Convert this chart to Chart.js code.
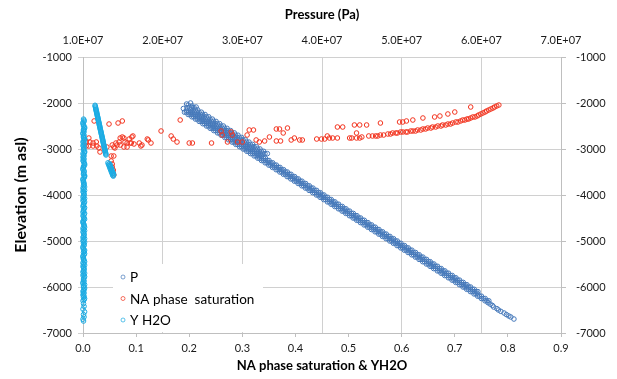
<!DOCTYPE html>
<html>
<head>
<meta charset="utf-8">
<script src="https://cdn.jsdelivr.net/npm/chart.js@4.4.1/dist/chart.umd.min.js"></script>
<style>
  html, body { margin: 0; padding: 0; background: #fff; }
  #wrap { width: 617px; height: 379px; }
</style>
</head>
<body>
<div id="wrap"><canvas id="myChart" width="617" height="379"></canvas></div>
<script>
// tick labels
const satTicks = ['0.0', '0.1', '0.2', '0.3', '0.4', '0.5', '0.6', '0.7', '0.8', '0.9'];
const presTicks = ['1.0E+07', '2.0E+07', '3.0E+07', '4.0E+07', '5.0E+07', '6.0E+07', '7.0E+07'];
const elevTicks = ['-7000', '-6000', '-5000', '-4000', '-3000', '-2000', '-1000'];
const seriesNames = ['P', 'NA phase  saturation', 'Y H2O'];

// P: elevation (m) and pressure (MPa) (rows across its width)
const pElevBand = [-2200,-2250,-2300,-2350,-2400,-2450,-2500,-2550,-2600,-2650,
  -2700,-2750,-2800,-2850,-2900,-2950,-3000,-3050,-3100,-3150,
  -3200,-3250,-3300,-3350,-3400,-3450,-3500,-3550,-3600,-3650,
  -3700,-3750,-3800,-3850,-3900,-3950,-4000,-4050,-4100,-4150,
  -4200,-4250,-4300,-4350,-4400,-4450,-4500,-4550,-4600,-4650,
  -4700,-4750,-4800,-4850,-4900,-4950,-5000,-5050,-5100,-5150,
  -5200,-5250,-5300,-5350,-5400,-5450,-5500,-5550,-5600,-5650,
  -5700,-5750,-5800,-5850,-5900,-5950,-6000,-6050,-6100,-6150,
  -6200,-6250,-6300];
const pPresA = [22.74,23.20,23.66,24.12,24.58,25.04,25.50,25.96,26.42,26.88,
  27.34,27.80,28.26,28.72,29.18,29.64,30.10,30.56,31.02,31.48,
  31.94,32.40,32.86,33.32,33.78,34.24,34.70,35.16,35.62,36.08,
  36.54,37.00,37.46,37.92,38.38,38.84,39.30,39.76,40.22,40.68,
  41.14,41.60,42.06,42.52,42.98,43.44,43.90,44.36,44.82,45.28,
  45.74,46.20,46.66,47.12,47.58,48.04,48.50,48.96,49.42,49.88,
  50.34,50.80,51.26,51.72,52.18,52.64,53.10,53.56,54.02,54.48,
  54.94,55.40,55.86,56.32,56.78,57.24,57.70,58.16,58.62,59.08,
  59.54,60.00,60.46];
const pPresA2 = [22.98,23.44,23.90,24.36,24.82,25.28,25.74,26.20,26.66,27.12,
  27.58,28.04,28.50,28.96,29.42,29.88,30.34,30.80,31.26,31.72,
  32.18,32.64,33.10,33.56,34.02,34.48,34.94,35.40,35.86,36.32,
  36.78,37.24,37.70,38.16,38.62,39.08,39.54,40.00,40.46,40.92,
  41.38,41.84,42.30,42.76,43.22,43.68,44.14,44.60,45.06,45.52,
  45.98,46.44,46.90,47.36,47.82,48.28,48.74,49.20,49.66,50.12,
  50.58,51.04,51.50,51.96,52.42,52.88,53.34,53.80,54.26,54.72,
  55.18,55.64,56.10,56.56,57.02,57.48,57.94,58.40,58.86,59.32,
  59.78,60.24,60.70];
const pPresM = [23.22,23.68,24.14,24.60,25.06,25.52,25.98,26.44,26.90,27.36,
  27.82,28.28,28.74,29.20,29.66,30.12,30.58,31.04,31.50,31.96,
  32.42,32.88,33.34,33.80,34.26,34.72,35.18,35.64,36.10,36.56,
  37.02,37.48,37.94,38.40,38.86,39.32,39.78,40.24,40.70,41.16,
  41.62,42.08,42.54,43.00,43.46,43.92,44.38,44.84,45.30,45.76,
  46.22,46.68,47.14,47.60,48.06,48.52,48.98,49.44,49.90,50.36,
  50.82,51.28,51.74,52.20,52.66,53.12,53.58,54.04,54.50,54.96,
  55.42,55.88,56.34,56.80,57.26,57.72,58.18,58.64,59.10,59.56,
  60.02,60.48,60.94];
const pPresM2 = [23.46,23.92,24.38,24.84,25.30,25.76,26.22,26.68,27.14,27.60,
  28.06,28.52,28.98,29.44,29.90,30.36,30.82,31.28,31.74,32.20,
  32.66,33.12,33.58,34.04,34.50,34.96,35.42,35.88,36.34,36.80,
  37.26,37.72,38.18,38.64,39.10,39.56,40.02,40.48,40.94,41.40,
  41.86,42.32,42.78,43.24,43.70,44.16,44.62,45.08,45.54,46.00,
  46.46,46.92,47.38,47.84,48.30,48.76,49.22,49.68,50.14,50.60,
  51.06,51.52,51.98,52.44,52.90,53.36,53.82,54.28,54.74,55.20,
  55.66,56.12,56.58,57.04,57.50,57.96,58.42,58.88,59.34];
const pPresB = [23.69,24.15,24.61,25.07,25.53,25.99,26.45,26.91,27.37,27.83,
  28.29,28.75,29.21,29.67,30.13,30.59,31.05,31.51,31.97,32.43,
  32.89,33.35,33.81,34.27,34.73,35.19,35.65,36.11,36.57,37.03,
  37.49,37.95,38.41,38.87,39.33,39.79,40.25,40.71,41.17,41.63,
  42.09,42.55,43.01,43.47,43.93,44.39,44.85,45.31,45.77,46.23,
  46.69,47.15,47.61,48.07,48.53,48.99,49.45,49.91,50.37,50.83,
  51.29,51.75,52.21,52.67,53.13,53.59,54.05,54.51,54.97,55.43,
  55.89,56.35,56.81,57.27,57.73,58.19,58.65,59.11,59.57];
// the band is wider near its top: extra rows on the high-pressure side
const pElevUpper = [-2100,-2150,-2200,-2250,-2300,-2350,-2400,-2450,-2500,-2550,
  -2600,-2650,-2700,-2750,-2800,-2850,-2900,-2950,-3000,-3050,-3100];
const pPresD2 = [23.06,23.52,23.98,24.44,24.90,25.36,25.82,26.28,26.74,27.20,
  27.66,28.12,28.58,29.04,29.50,29.96,30.42,30.88,31.34,31.80,32.26];
const pPresD = [23.35,23.81,24.27,24.73,25.19,25.65,26.11,26.57,27.03,27.49,
  27.95,28.41,28.87,29.33,29.79,30.25,30.71,31.17,31.63,32.09,32.55];
const pPresC2 = [23.64,24.10,24.56,25.02,25.48,25.94,26.40,26.86,27.32,27.78,
  28.24,28.70,29.16,29.62,30.08,30.54,31.00,31.46,31.92,32.38,32.84];
const pPresC = [23.94,24.40,24.86,25.32,25.78,26.24,26.70,27.16,27.62,28.08,
  28.54,29.00,29.46,29.92,30.38,30.84,31.30,31.76,32.22,32.68,33.14];
const pElevTip = [-2000,-2022,-2044,-2065,-2087,-2120,-2160];
const pPresTip = [23.5,23.0,23.21,23.71,24.2,22.6,23.0];
// deepest P points
const pElevTail = [-6340,-6370,-6400,-6435,-6470,-6500,-6530,-6565,-6600,-6630,-6652,-6696];
const pPresTail = [60.83,61.10,61.38,61.55,61.95,62.15,62.45,62.85,63.15,63.45,63.70,64.09];

// NA phase saturation
const naX = [.021,.011,.006,.013,.019,.025,.011,.006,.019,.026,
  .030,.032,.049,.066,.074,.055,.058,.062,.068,.070,
  .074,.077,.079,.083,.089,.087,.092,.096,.106,.111,
  .064,.070,.077,.083,.060,.094,.109,.121,.128,.147,
  .053,.058,.053,.055,.055,.057,.057,.058,.045,.091,
  .123,.166,.170,.177,.183,.200,.206,.242,.260,.262,
  .272,.279,.281,.291,.300,.309,.313,.321,.326,.332,
  .342,.351,.364,.370,.364,.372,.377,.385,.392,.398,
  .408,.413,.440,.449,.455,.460,.470,.479,.479,.489,
  .506,.511,.515,.521,.525,.534,.538,.545,.560,
  .596,.602,.609,.621,.640,.662,.672,.687,.700,.730,
  .502,.551,.555,.560,.566,.574,.579,.583,.589,.592,
  .598,.602,.608,.611,.617,.621,.626,.630,.636,.640,
  .645,.649,.655,.658,.664,.668,.674,.677,.683,.687,
  .692,.696,.702,.706,.711,.715,.719,.723,.726,.730,
  .734,.738,.742,.745,.749,.753,.757,.760,.764,.768,
  .772,.775,.779,.783,
  .464,.515,.521];
const naElev = [-2391,-2761,-2848,-2848,-2870,-2848,-2935,-2935,-2935,-2935,
  -2978,-3065,-2457,-2435,-2391,-2913,-2957,-2870,-2848,-2761,
  -2739,-2761,-2848,-2870,-2870,-2783,-2739,-2891,-2870,-2913,
  -2913,-2913,-2957,-2957,-2978,-2717,-2935,-2783,-2870,-2609,
  -3152,-3152,-3261,-3326,-3391,-3457,-3522,-3565,-2957,-2870,
  -2804,-2717,-2783,-2848,-2370,-2870,-2870,-2870,-2609,-2696,
  -2848,-2630,-2696,-2848,-2848,-2696,-2587,-2587,-2804,-2848,
  -2826,-2739,-2565,-2565,-2826,-2826,-2652,-2544,-2804,-2761,
  -2804,-2804,-2783,-2783,-2783,-2717,-2761,-2761,-2522,-2522,
  -2761,-2478,-2652,-2478,-2739,-2478,-2717,-2717,-2435,
  -2413,-2413,-2391,-2370,-2326,-2304,-2283,-2239,-2196,-2087,
  -2761,-2717,-2717,-2696,-2696,-2674,-2674,-2652,-2652,-2652,
  -2630,-2630,-2630,-2630,-2609,-2609,-2609,-2587,-2587,-2565,
  -2565,-2544,-2544,-2522,-2522,-2500,-2500,-2478,-2478,-2457,
  -2457,-2435,-2413,-2413,-2391,-2370,-2370,-2348,-2348,-2326,
  -2304,-2304,-2283,-2261,-2239,-2217,-2196,-2174,-2152,-2130,
  -2109,-2087,-2065,-2044,
  -2761,-2761,-2761];

// Y H2O: column near zero (two interleaved sets), upper diagonal, short lower segment
const yColElev = [-2350,-2400,-2450,-2500,-2550,-2600,-2650,-2700,-2750,-2800,
  -2850,-2900,-2950,-3000,-3050,-3100,-3150,-3200,-3250,-3300,
  -3350,-3400,-3450,-3500,-3550,-3600,-3650,-3700,-3750,-3800,
  -3850,-3900,-3950,-4000,-4050,-4100,-4150,-4200,-4250,-4300,
  -4350,-4400,-4450,-4500,-4550,-4600,-4650,-4700,-4750,-4800,
  -4850,-4900,-4950,-5000,-5050,-5100,-5150,-5200,-5250,-5300,
  -5350,-5400,-5450,-5500,-5550,-5600,-5650,-5700,-5750,-5800,
  -5850,-5900,-5950,-6000,-6050,-6100,-6150,-6200,-6250,-6300,
  -6360,-6420,-6480,-6540,-6600,-6650,-6700,-6740];
const yColX = [.001,.002,.000,.001,.003,.001,.000,.002,.001,.003,
  .000,.002,.001,.001,.003,.000,.002,.001,.000,.002,
  .003,.001,.000,.002,.001,.003,.000,.001,.002,.001,
  .000,.003,.001,.002,.000,.001,.003,.001,.000,.002,
  .001,.003,.000,.002,.001,.000,.002,.003,.001,.000,
  .002,.001,.003,.000,.001,.002,.000,.003,.001,.002,
  .000,.001,.003,.001,.000,.002,.001,.003,.000,.002,
  .001,.000,.003,.001,.002,.000,.001,.002,.003,.000,
  .001,.002,.000,.003,.001,.002,.000,.001];
const yCol2Elev = [-2375,-2425,-2475,-2525,-2575,-2625,-2675,-2725,-2775,-2825,
  -2875,-2925,-2975,-3025,-3075,-3125,-3175,-3225,-3275,-3325,
  -3375,-3425,-3475,-3525,-3575,-3625,-3675,-3725,-3775,-3825,
  -3875,-3925,-3975,-4025,-4075,-4125,-4175,-4225,-4275,-4325,
  -4375,-4425,-4475,-4525,-4575,-4625,-4675,-4725,-4775,-4825,
  -4875,-4925,-4975,-5025,-5075,-5125,-5175,-5225,-5275,-5325,
  -5375,-5425,-5475,-5525,-5575,-5625,-5675,-5725,-5775,-5825,
  -5875,-5925,-5975,-6025,-6075,-6125,-6175,-6225,-6275];
const yCol2X = [.002,.000,.001,.003,.001,.002,.000,.001,.003,.001,
  .002,.000,.002,.001,.003,.001,.000,.002,.001,.003,
  .001,.000,.002,.001,.003,.002,.000,.001,.002,.003,
  .001,.000,.002,.001,.003,.000,.002,.001,.003,.001,
  .000,.002,.001,.003,.000,.001,.002,.000,.003,.001,
  .002,.000,.001,.003,.002,.000,.001,.002,.003,.000,
  .001,.002,.000,.003,.001,.002,.000,.001,.003,.001,
  .002,.000,.001,.003,.001,.002,.000,.001,.002];
const yDiagElev = [-2050,-2070,-2090,-2110,-2130,-2150,-2170,-2190,-2210,-2230,
  -2250,-2270,-2290,-2310,-2330,-2350,-2370,-2390,-2410,-2430,
  -2450,-2470,-2490,-2510,-2530,-2550,-2570,-2590,-2610,-2630,
  -2650,-2670,-2690,-2710,-2730,-2750,-2770,-2790,-2810,-2830,
  -2850,-2870,-2890,-2910,-2930,-2950,-2970,-2990,-3010,-3030,
  -3050,-3070,-3090,-3110,-3130];
const yDiagX = [.0227,.0231,.0235,.0238,.0242,.0246,.0250,.0254,.0258,.0261,
  .0265,.0269,.0273,.0277,.0281,.0284,.0288,.0292,.0296,.0300,
  .0304,.0307,.0311,.0315,.0319,.0322,.0326,.0330,.0334,.0338,
  .0342,.0345,.0349,.0353,.0357,.0361,.0365,.0368,.0372,.0376,
  .0380,.0383,.0387,.0391,.0395,.0399,.0403,.0406,.0410,.0414,
  .0418,.0422,.0426,.0429,.0433];
const ySegElev = [-3300,-3330,-3360,-3390,-3420,-3450,-3480,-3510,-3540,-3570,-3590,
  -3320,-3350,-3380,-3410,-3440,-3470,-3500,-3530,-3560];
const ySegX = [.047,.048,.049,.050,.051,.052,.053,.054,.055,.056,.057,
  .050,.051,.052,.053,.054,.055,.056,.057,.058];

const pColor = '#4679BA';
const naColor = '#F2341F';
const yColor = '#1AABE3';

const toPts = (xs, ys, k) => xs.map((v, i) => ({ x: v * (k || 1), y: ys[i] }));

const pData = [].concat(
  toPts(pPresA, pElevBand, 1e6),
  toPts(pPresA2, pElevBand, 1e6),
  toPts(pPresM, pElevBand, 1e6),
  toPts(pPresM2, pElevBand, 1e6),
  toPts(pPresB, pElevBand, 1e6),
  toPts(pPresD2, pElevUpper, 1e6),
  toPts(pPresD, pElevUpper, 1e6),
  toPts(pPresC2, pElevUpper, 1e6),
  toPts(pPresC, pElevUpper, 1e6),
  toPts(pPresTip, pElevTip, 1e6),
  toPts(pPresTail, pElevTail, 1e6)
);
const naData = toPts(naX, naElev);
const yData = [].concat(
  toPts(yColX, yColElev),
  toPts(yCol2X, yCol2Elev),
  toPts(yDiagX, yDiagElev),
  toPts(ySegX, ySegElev)
);

Chart.defaults.font.family = 'Lato';
Chart.defaults.color = '#1a1a1a';

const pointStyle = {
  showLine: false,
  pointStyle: 'circle',
  pointRadius: 2.3,
  pointBorderWidth: 1,
  pointBackgroundColor: 'rgba(0,0,0,0)',
  clip: false
};

// legend drawn inside the plot, lower left, on a white box
const boxLegend = {
  id: 'boxLegend',
  afterDatasetsDraw(chart) {
    const { ctx, chartArea } = chart;
    const x0 = chartArea.left + 30;
    const y0 = chartArea.bottom - 69;
    ctx.save();
    ctx.fillStyle = '#ffffff';
    ctx.fillRect(x0, y0, 150, 68);
    ctx.font = '13.5px Lato';
    ctx.textBaseline = 'middle';
    chart.data.datasets.forEach((ds, i) => {
      const cy = y0 + 13 + i * 21.5;
      ctx.beginPath();
      ctx.arc(x0 + 10, cy, 2, 0, Math.PI * 2);
      ctx.globalAlpha = 0.7;
      ctx.strokeStyle = ds.borderColor;
      ctx.lineWidth = 1;
      ctx.stroke();
      ctx.globalAlpha = 1;
      ctx.fillStyle = '#000';
      ctx.fillText(ds.label, x0 + 17, cy + 1);
    });
    ctx.restore();
  }
};

const titleFont = { family: 'Lato', size: 13, weight: 'bold' };
const tickFont = { family: 'Lato', size: 11 };

new Chart(document.getElementById('myChart'), {
  type: 'scatter',
  data: {
    datasets: [
      Object.assign({ label: seriesNames[0], data: pData, xAxisID: 'x2', yAxisID: 'y',
        borderColor: pColor, pointBorderColor: pColor, order: 3 }, pointStyle),
      Object.assign({ label: seriesNames[1], data: naData, xAxisID: 'x', yAxisID: 'y',
        borderColor: naColor, pointBorderColor: naColor, order: 2 }, pointStyle),
      Object.assign({ label: seriesNames[2], data: yData, xAxisID: 'x', yAxisID: 'y',
        borderColor: yColor, pointBorderColor: yColor, order: 1 }, pointStyle)
    ]
  },
  options: {
    responsive: false,
    devicePixelRatio: 1,
    animation: false,
    events: [],
    layout: { padding: 0 },
    plugins: { legend: { display: false }, tooltip: { enabled: false } },
    scales: {
      x: {
        type: 'linear', position: 'bottom', min: 0, max: 0.9,
        ticks: { stepSize: 0.1, font: tickFont, padding: 5, maxRotation: 0,
          callback: v => satTicks[Math.round(v * 10)] },
        grid: { drawOnChartArea: false, tickLength: 4, color: '#BFBFBF' },
        border: { display: true, color: '#BFBFBF' },
        title: { display: true, text: 'NA phase saturation & YH2O', font: titleFont,
          color: '#000', padding: { top: 0, bottom: 5 } },
        afterFit: s => { s.height = 46; }
      },
      x2: {
        type: 'linear', position: 'top', min: 1e7, max: 7e7,
        ticks: { stepSize: 1e7, font: tickFont, padding: 10, maxRotation: 0,
          callback: v => presTicks[Math.round(v / 1e7) - 1] },
        grid: { drawOnChartArea: true, drawTicks: false, color: '#D0D0D0' },
        border: { display: true, color: '#D0D0D0' },
        title: { display: true, text: 'Pressure (Pa)', font: titleFont,
          color: '#000', padding: { top: 7, bottom: 0 } },
        afterFit: s => { s.height = 57; }
      },
      y: {
        type: 'linear', position: 'left', min: -7000, max: -1000,
        ticks: { stepSize: 1000, font: tickFont, padding: 6,
          callback: v => elevTicks[Math.round((v + 7000) / 1000)] },
        grid: { color: '#D0D0D0', tickLength: 5 },
        border: { display: true, color: '#BFBFBF' },
        title: { display: true, text: 'Elevation (m asl)',
          font: { family: 'Lato', size: 16, weight: 'bold' },
          color: '#000', padding: { top: 11, bottom: 0 } },
        afterFit: s => { s.width = 83; }
      },
      y2: {
        type: 'linear', position: 'right', min: -7000, max: -1000,
        ticks: { stepSize: 1000, font: tickFont, padding: 10,
          callback: v => elevTicks[Math.round((v + 7000) / 1000)] },
        grid: { drawOnChartArea: false, tickLength: 5, color: '#BFBFBF' },
        border: { display: true, color: '#BFBFBF' },
        afterFit: s => { s.width = 56; }
      }
    }
  },
  plugins: [boxLegend]
});
</script>
</body>
</html>
